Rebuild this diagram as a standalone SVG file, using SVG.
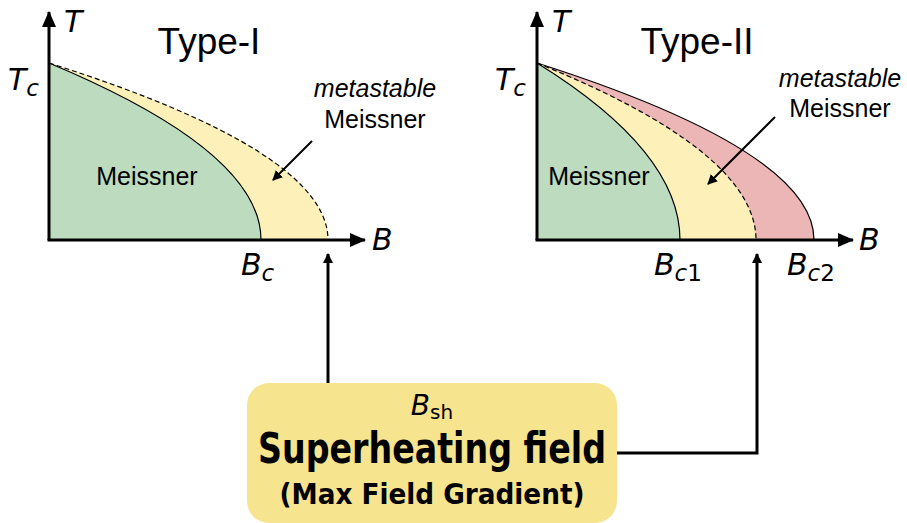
<svg xmlns="http://www.w3.org/2000/svg" width="907" height="523" viewBox="0 0 907 523">
<style>
.ax{stroke:#000;stroke-width:3;fill:none}
.cv{stroke:#000;stroke-width:1.2}
.ds{stroke:#000;stroke-width:1.2;stroke-dasharray:5 3;fill:none}
.g{fill:#bddbbf}
.y{fill:#fdf0b8}
.r{fill:#ebb6b5}
.lab{font-family:"DejaVu Sans",sans-serif;font-style:oblique;font-size:30px;fill:#000}
.sub{font-size:23px}
.tt{font-family:"Liberation Sans",Arial,sans-serif;font-size:37px;fill:#000;text-anchor:middle}
.m{font-family:"Liberation Sans",Arial,sans-serif;font-size:25px;fill:#000;text-anchor:middle}
.con{stroke:#000;stroke-width:3;fill:none}
.thin{stroke:#000;stroke-width:2;fill:none}
</style>
<defs>
<marker id="ah" markerWidth="10" markerHeight="10" refX="9" refY="5" orient="auto" markerUnits="userSpaceOnUse" viewBox="0 0 10 10">
<path d="M0,0 L10,5 L0,10 z" fill="#000"/>
</marker>
<marker id="big" markerWidth="16" markerHeight="14" refX="15" refY="7" orient="auto" markerUnits="userSpaceOnUse" viewBox="0 0 16 14">
<path d="M0,0 L16,7 L0,14 z" fill="#000"/>
</marker>
</defs>
<rect width="907" height="523" fill="#fff"/>

<g id="plot-type1">
<path class="y" d="M49,63 Q328,151.5 328,240 L49,240 z"/>
<path class="g cv" d="M49,63 Q261,151.5 261,240 L49,240 z"/>
<path class="ds" d="M49,63 Q328,151.5 328,240"/>
<line class="ax" x1="49" y1="240" x2="49" y2="12" marker-end="url(#big)"/>
<line class="ax" x1="47.5" y1="240" x2="365" y2="240" marker-end="url(#big)"/>
<text class="lab" x="64" y="32">T</text>
<text class="lab" x="8" y="90">T<tspan class="sub" dy="6">c</tspan></text>
<text class="lab" x="372" y="250">B</text>
<text class="lab" x="241" y="275">B<tspan class="sub" dy="6">c</tspan></text>
<text class="tt" x="209" y="54">Type-I</text>
<text class="m" x="147" y="185">Meissner</text>
<text class="m" x="375" y="97" font-style="italic">metastable</text>
<text class="m" x="375" y="128">Meissner</text>
<line class="thin" x1="312" y1="141" x2="273" y2="180" marker-end="url(#ah)"/>
</g>

<g id="plot-type2">
<path class="r cv" d="M537,63 Q814,151.5 814,240 L537,240 z"/>
<path class="y" d="M537,63 Q756,151.5 756,240 L537,240 z"/>
<path class="g cv" d="M537,63 Q680,151.5 680,240 L537,240 z"/>
<path class="ds" d="M537,63 Q756,151.5 756,240"/>
<line class="ax" x1="537" y1="240" x2="537" y2="12" marker-end="url(#big)"/>
<line class="ax" x1="535.5" y1="240" x2="853" y2="240" marker-end="url(#big)"/>
<text class="lab" x="552" y="32">T</text>
<text class="lab" x="495" y="90">T<tspan class="sub" dy="6">c</tspan></text>
<text class="lab" x="859" y="250">B</text>
<text class="lab" x="654" y="275">B<tspan class="sub" dy="6">c</tspan><tspan class="sub" font-style="normal">1</tspan></text>
<text class="lab" x="787" y="275">B<tspan class="sub" dy="6">c</tspan><tspan class="sub" font-style="normal">2</tspan></text>
<text class="tt" x="697" y="54">Type-II</text>
<text class="m" x="599" y="185">Meissner</text>
<text class="m" x="840" y="87" font-style="italic">metastable</text>
<text class="m" x="840" y="117">Meissner</text>
<line class="thin" x1="775" y1="117" x2="708" y2="184" marker-end="url(#ah)"/>
</g>

<g id="connectors">
<line class="con" x1="328" y1="383" x2="328" y2="254" marker-end="url(#ah)"/>
<polyline class="con" points="617,453 757,453 757,254" marker-end="url(#ah)"/>
</g>

<g id="box-bsh">
<rect x="247" y="383" width="370" height="140" rx="22" fill="#f7e48e"/>
<text x="432" y="415" text-anchor="middle" font-family="DejaVu Sans,sans-serif" font-size="28"><tspan font-style="oblique">B</tspan><tspan font-size="20" dy="4">sh</tspan></text>
<text x="432" y="463" text-anchor="middle" font-family="DejaVu Sans Condensed,DejaVu Sans,sans-serif" font-stretch="condensed" font-weight="bold" font-size="42" textLength="348" lengthAdjust="spacingAndGlyphs">Superheating field</text>
<text x="432" y="504" text-anchor="middle" font-family="DejaVu Sans Condensed,DejaVu Sans,sans-serif" font-stretch="condensed" font-weight="bold" font-size="28" textLength="305" lengthAdjust="spacingAndGlyphs">(Max Field Gradient)</text>
</g>
</svg>
